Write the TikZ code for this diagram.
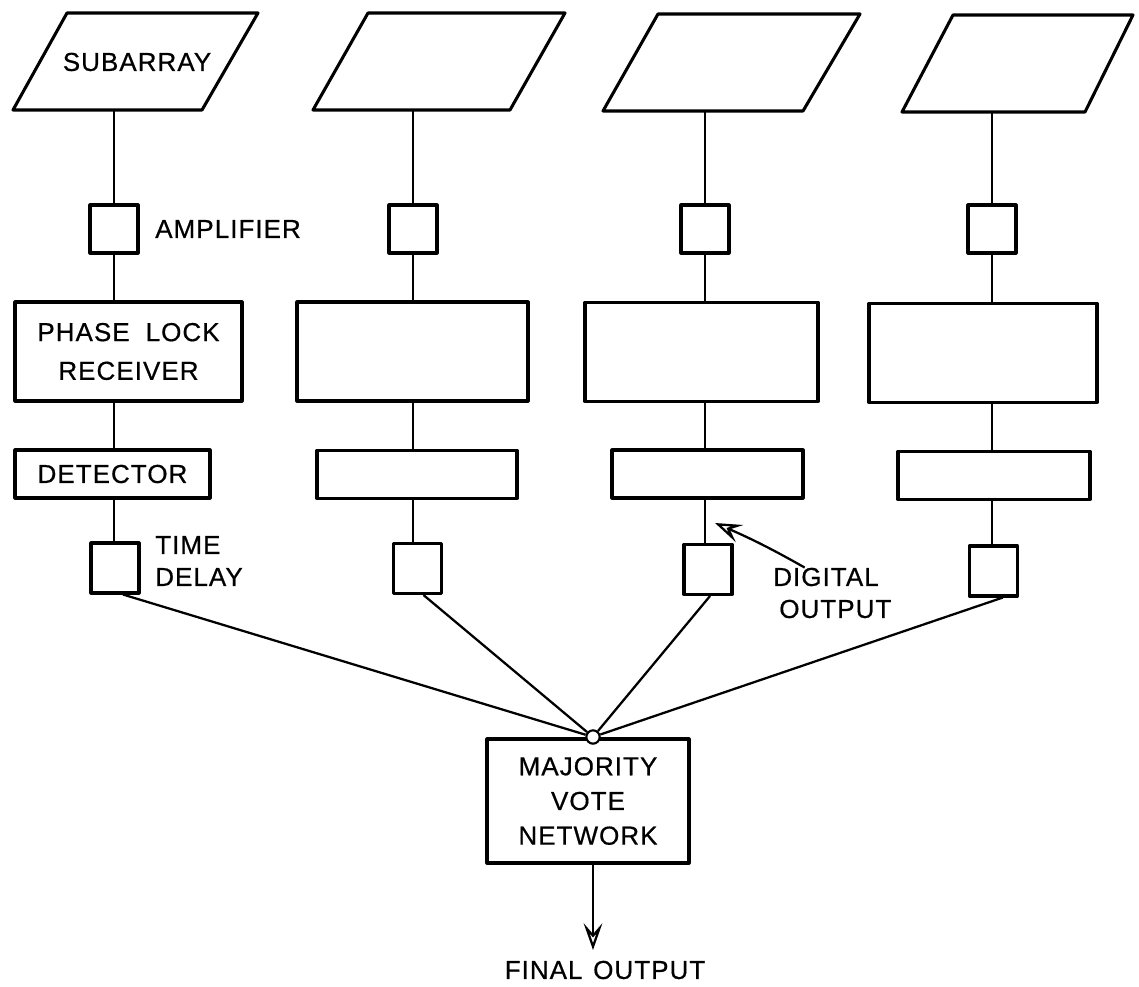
\documentclass[tikz,border=0pt]{standalone}
\usepackage{fontspec}
\setmainfont[LetterSpace=4,FakeBold=0.6]{Liberation Sans}
\usetikzlibrary{arrows.meta}

\begin{document}
\begin{tikzpicture}[x=0.75pt,y=0.75pt,yscale=-1,xscale=1,
  frame/.style={line width=2.3pt,line join=round},
  blk/.style={draw,frame,inner sep=0pt,align=center,font=\fontsize{19.5}{29}\selectfont},
  sq/.style={blk,minimum width=36pt,minimum height=36pt},
  rcv/.style={blk,minimum height=74.25pt},
  det/.style={blk,minimum height=36pt},
  lbl/.style={inner sep=0pt,font=\fontsize{19.5}{24}\selectfont},
  wire/.style={line width=1.7pt},
  junc/.style={circle,draw,fill=white,line width=1.6pt,inner sep=0pt,minimum size=10pt},
  tip/.style={-{Stealth[open,length=20pt,width=14pt,inset=8pt]}}]
\useasboundingbox (0,0) rectangle (1139,987);

%Shape: Parallelogram
\draw[frame] (67,13) -- (258,13) -- (202,110) -- (13,110) -- cycle;
\node[lbl] (s1) at (137,62) {SUBARRAY};
\coordinate (s1b) at (114,110);
%Shape: Parallelogram
\draw[frame] (368,13) -- (565,13) -- (510,110) -- (313,110) -- cycle;
\coordinate (s2b) at (413,110);
%Shape: Parallelogram
\draw[frame] (658,14) -- (860,14) -- (803,111) -- (603,111) -- cycle;
\coordinate (s3b) at (705,111);
%Shape: Parallelogram
\draw[frame] (953,15) -- (1133,15) -- (1085,112) -- (902,112) -- cycle;
\coordinate (s4b) at (992,112);

%Shape: Square
\node[sq] (a1) at (114,229) {};
\node[sq] (a2) at (413,229) {};
\node[sq] (a3) at (705,229) {};
\node[sq] (a4) at (992,229) {};

%Shape: Rectangle
\node[rcv,minimum width=170.25pt] (p1) at (128.5,351.5) {PHASE\hspace{12pt}LOCK\\RECEIVER};
\node[rcv,minimum width=173.25pt] (p2) at (412.5,351.5) {};
\node[rcv,minimum width=174.75pt] (p3) at (701.5,352) {};
\node[rcv,minimum width=171pt] (p4) at (983,353) {};

%Shape: Rectangle
\node[det,minimum width=146.25pt] (d1) at (112.5,474) {DETECTOR};
\node[det,minimum width=150pt] (d2) at (417,474.5) {};
\node[det,minimum width=143.25pt] (d3) at (707.5,474) {};
\node[det,minimum width=144pt] (d4) at (994,475.5) {};

%Shape: Square
\node[sq,minimum height=37.5pt] (t1) at (115,568) {};
\node[sq,minimum height=37.5pt] (t2) at (417.5,568.5) {};
\node[sq,minimum height=37.5pt] (t3) at (708,569.5) {};
\node[sq,minimum height=37.5pt] (t4) at (993.5,571) {};

%Shape: Rectangle
\node[blk,minimum width=151.5pt,minimum height=93pt,font=\fontsize{19.5}{26}\selectfont] (mv) at (588,801) {MAJORITY\\VOTE\\NETWORK};
%Shape: Circle
\node[junc] (j) at (593,737) {};

%Straight Lines
\draw[wire] (s1b) -- (a1);
\draw[wire] (a1) -- (p1.north -| a1);
\draw[wire] (p1.south -| a1) -- (d1.north -| a1);
\draw[wire] (d1.south -| a1) -- (t1.north -| a1);
\draw[wire] (s2b) -- (a2);
\draw[wire] (a2) -- (p2.north -| a2);
\draw[wire] (p2.south -| a2) -- (d2.north -| a2);
\draw[wire] (d2.south -| a2) -- (t2.north -| a2);
\draw[wire] (s3b) -- (a3);
\draw[wire] (a3) -- (p3.north -| a3);
\draw[wire] (p3.south -| a3) -- (d3.north -| a3);
\draw[wire] (d3.south -| a3) -- (t3.north -| a3);
\draw[wire] (s4b) -- (a4);
\draw[wire] (a4) -- (p4.north -| a4);
\draw[wire] (p4.south -| a4) -- (d4.north -| a4);
\draw[wire] (d4.south -| a4) -- (t4.north -| a4);

%Straight Lines
\draw[wire] ([xshift=6pt]t1.south) -- (j);
\draw[wire] ([xshift=4.5pt]t2.south) -- (j);
\draw[wire] ([xshift=1.5pt]t3.south) -- (j);
\draw[wire] ([xshift=7pt]t4.south) -- (j);

% Text Node
\node[lbl,anchor=west] (amp) at (155,229) {AMPLIFIER};
\node[lbl,anchor=west,align=left] (td) at (155,561) {TIME\\DELAY};
\node[lbl,align=center] (dig) at (826,593) {DIGITAL\\\hspace{14pt}OUTPUT};
\node[lbl] (fout) at (605,970) {FINAL\hspace{8pt}OUTPUT};

%Arrows
\coordinate (dtip) at (715,523);
\draw[wire,tip] ([xshift=-16pt]dig.north) to[bend left=3] (dtip);
\coordinate (ftip) at (593,950);
\draw[wire,tip] (mv.south -| j) -- (ftip);
\end{tikzpicture}
\end{document}
